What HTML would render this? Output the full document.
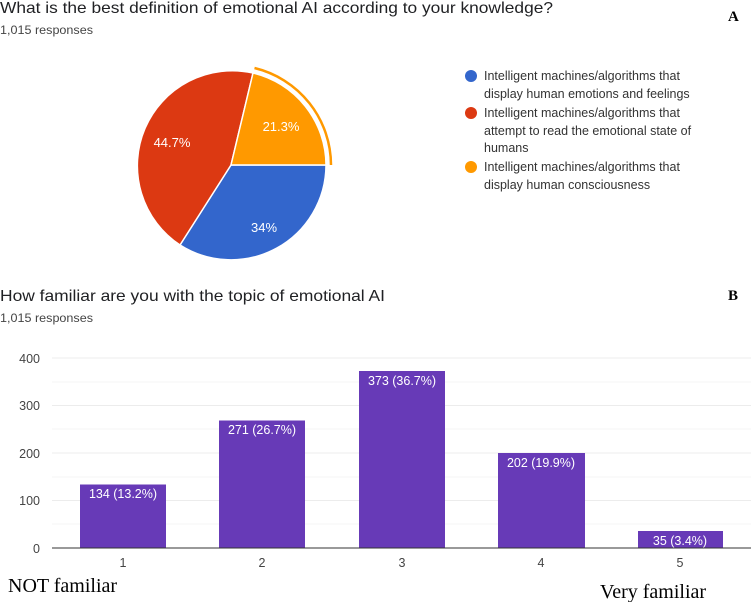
<!DOCTYPE html>
<html><head><meta charset="utf-8"><style>
html,body{margin:0;padding:0;background:#fff;}
svg{display:block;font-family:"Liberation Sans",Arial,sans-serif;}
</style></head><body>
<svg width="751" height="602" viewBox="0 0 751 602" xmlns="http://www.w3.org/2000/svg">
<rect width="751" height="602" fill="#fff"/>
<text x="0" y="13" font-size="16" fill="#202124" textLength="553" lengthAdjust="spacingAndGlyphs">What is the best definition of emotional AI according to your knowledge?</text>
<text x="0" y="34" font-size="12" fill="#444" textLength="93" lengthAdjust="spacingAndGlyphs">1,015 responses</text>
<text x="728" y="21" font-size="15" font-weight="bold" font-family="Liberation Serif,serif" fill="#000">A</text>
<path d="M231,165 L326,165 A95,95 0 0 1 180,245 Z" fill="#3366cc" stroke="#fff" stroke-width="1.5"/>
<path d="M231,165 L180,245 A95,95 0 0 1 253,73 Z" fill="#dc3912" stroke="#fff" stroke-width="1.5"/>
<path d="M231,165 L253,73 A95,95 0 0 1 326,165 Z" fill="#ff9900" stroke="#fff" stroke-width="1.5"/>
<path d="M254.5,68 A100,100 0 0 1 331,165" fill="none" stroke="#ff9900" stroke-width="2.5"/>
<g fill="#fff" font-size="13" text-anchor="middle">
<text x="172" y="147">44.7%</text>
<text x="281" y="131">21.3%</text>
<text x="264" y="232">34%</text>
</g>
<circle cx="471" cy="76" r="6" fill="#3366cc"/>
<circle cx="471" cy="113" r="6" fill="#dc3912"/>
<circle cx="471" cy="167" r="6" fill="#ff9900"/>
<g font-size="12.5" fill="#333">
<text x="484" y="80">Intelligent machines/algorithms that</text>
<text x="484" y="98">display human emotions and feelings</text>
<text x="484" y="117">Intelligent machines/algorithms that</text>
<text x="484" y="135">attempt to read the emotional state of</text>
<text x="484" y="152">humans</text>
<text x="484" y="171">Intelligent machines/algorithms that</text>
<text x="484" y="189">display human consciousness</text>
</g>
<text x="0" y="301" font-size="16" fill="#202124" textLength="385" lengthAdjust="spacingAndGlyphs">How familiar are you with the topic of emotional AI</text>
<text x="0" y="322" font-size="12" fill="#444" textLength="93" lengthAdjust="spacingAndGlyphs">1,015 responses</text>
<text x="728" y="300" font-size="15" font-weight="bold" font-family="Liberation Serif,serif" fill="#000">B</text>
<g stroke="#ececec" stroke-width="1">
<line x1="52" y1="358" x2="751" y2="358"/>
<line x1="52" y1="405.5" x2="751" y2="405.5"/>
<line x1="52" y1="453" x2="751" y2="453"/>
<line x1="52" y1="500.5" x2="751" y2="500.5"/>
</g>
<g stroke="#f6f6f6" stroke-width="1">
<line x1="52" y1="382" x2="751" y2="382"/>
<line x1="52" y1="429" x2="751" y2="429"/>
<line x1="52" y1="477" x2="751" y2="477"/>
<line x1="52" y1="524" x2="751" y2="524"/>
</g>
<g font-size="12.5" fill="#444" text-anchor="end">
<text x="40" y="363">400</text>
<text x="40" y="410">300</text>
<text x="40" y="458">200</text>
<text x="40" y="505">100</text>
<text x="40" y="553">0</text>
</g>
<g fill="#673ab7">
<rect x="80" y="484.5" width="86" height="63.5"/>
<rect x="219" y="420.5" width="86" height="127.5"/>
<rect x="359" y="371" width="86" height="177"/>
<rect x="498" y="453" width="87" height="95"/>
<rect x="638" y="531" width="85" height="17"/>
</g>
<line x1="52" y1="548" x2="751" y2="548" stroke="#333" stroke-width="1"/>
<g font-size="12.5" fill="#fff" text-anchor="middle">
<text x="123" y="498">134 (13.2%)</text>
<text x="262" y="434">271 (26.7%)</text>
<text x="402" y="385">373 (36.7%)</text>
<text x="541" y="467">202 (19.9%)</text>
<text x="680" y="545">35 (3.4%)</text>
</g>
<g font-size="12.5" fill="#444" text-anchor="middle">
<text x="123" y="567">1</text>
<text x="262" y="567">2</text>
<text x="402" y="567">3</text>
<text x="541" y="567">4</text>
<text x="680" y="567">5</text>
</g>
<text x="8" y="592" font-size="20" font-family="Liberation Serif,serif" fill="#000">NOT familiar</text>
<text x="600" y="598" font-size="20" font-family="Liberation Serif,serif" fill="#000">Very familiar</text>
</svg>
</body></html>
